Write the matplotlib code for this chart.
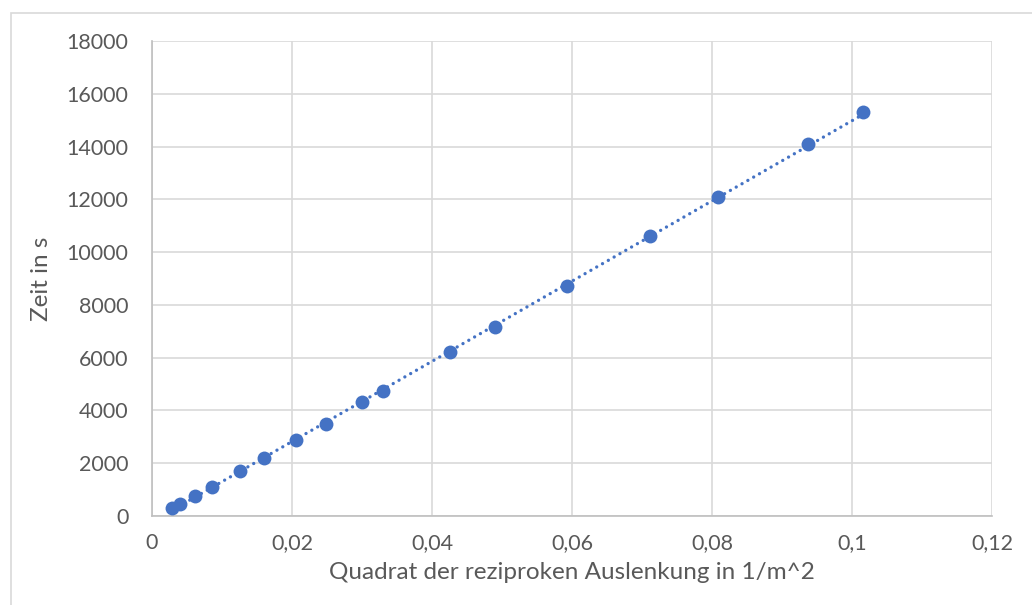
import numpy as np
import matplotlib.pyplot as plt
from matplotlib.ticker import FuncFormatter, MultipleLocator
from matplotlib.patches import Rectangle

# -----------------------------
# Data
# -----------------------------
x_vals = [0.0029, 0.0040, 0.0061, 0.0086, 0.0126, 0.0160, 0.0205, 0.0248,
          0.0300, 0.0330, 0.0426, 0.0490, 0.0593, 0.0712, 0.0809, 0.0937, 0.1016]
t_vals = [314, 455, 758, 1110, 1705, 2197, 2879, 3485,
          4307, 4746, 6200, 7159, 8723, 10606, 12072, 14091, 15292]

x_label = "Quadrat der reziproken Auslenkung in 1/m^2"
y_label = "Zeit in s"

blue = "#4472C4"
grid_col = "#D9D9D9"
text_col = "#595959"

plt.rcParams['font.family'] = ['Lato', 'DejaVu Sans']

fig = plt.figure(figsize=(10.32, 6.05), dpi=100)
ax = fig.add_axes([152/1032, 89/605, 840/1032, 475/605])

# outer chart border
fig.patches.append(Rectangle((11/1032, -0.05), 1.1, (605-13)/605 + 0.05,
                             transform=fig.transFigure, fill=False,
                             edgecolor=grid_col, linewidth=1.2, zorder=-1))

# linear trendline
x = np.array(x_vals)
t = np.array(t_vals)
k, d = np.polyfit(x, t, 1)
xs = np.array([x.min(), x.max()])
ax.plot(xs, k*xs + d, color=blue, linewidth=2.4,
        linestyle=(0, (0.01, 2.0)), dash_capstyle='round', zorder=2)

ax.plot(x, t, 'o', color=blue, markersize=10, markeredgewidth=0, zorder=3)

ax.set_xlim(0, 0.12)
ax.set_ylim(0, 18000)
ax.xaxis.set_major_locator(MultipleLocator(0.02))
ax.yaxis.set_major_locator(MultipleLocator(2000))
ax.xaxis.set_major_formatter(FuncFormatter(lambda v, p: '{:g}'.format(round(v, 6)).replace('.', ',')))
ax.yaxis.set_major_formatter(FuncFormatter(lambda v, p: '{:d}'.format(int(round(v)))))

ax.grid(True, color=grid_col, linewidth=1.2)
ax.set_axisbelow(True)
for s in ['top', 'right']:
    ax.spines[s].set_visible(False)
for s in ['left', 'bottom']:
    ax.spines[s].set_color('#BFBFBF')
    ax.spines[s].set_linewidth(1.2)

ax.tick_params(length=0, labelsize=15.5, colors=text_col)
ax.tick_params(axis='y', pad=17)
ax.tick_params(axis='x', pad=12)

ax.set_xlabel(x_label, fontsize=17.5, color=text_col, labelpad=7)
ax.set_ylabel(y_label, fontsize=17.5, color=text_col, labelpad=10)

fig.savefig("out.png", dpi=100)
